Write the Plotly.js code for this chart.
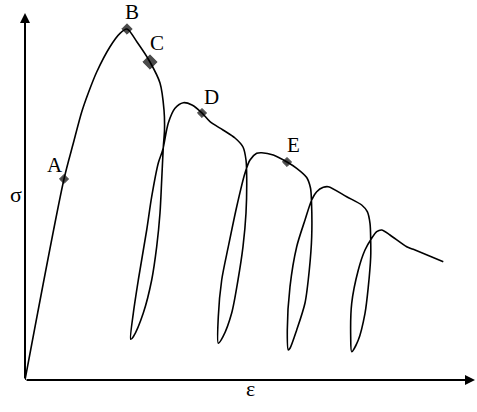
<!DOCTYPE html>
<html>
<head>
<meta charset="utf-8">
<script src="https://cdn.plot.ly/plotly-3.0.1.min.js"></script>
<style>
  html, body { margin: 0; padding: 0; background: #fff; }
  #chart { width: 477px; height: 412px; }
</style>
</head>
<body>
<div id="chart"></div>
<script>
// stress-strain path with the unload / reload loops (schematic units)
var strain = [0, 39, 48.3, 56.7, 63.3, 71.7, 85, 95, 102, 112, 125, 135, 139, 139.5, 138.3, 136.7, 135, 131.7, 126.7, 118.3, 108.3, 105.7,
  108.3, 113.3, 121.7, 126.7, 133.3, 137.7, 143.3, 150, 158.3, 167, 177, 185, 198, 210, 218, 221, 221.7, 221, 218, 213, 206.7, 198, 193.3,
  193.3, 196.7, 203.3, 211.7, 220, 225, 231.7, 236.7, 248.3, 262, 271.7, 281.7, 285.5, 286.5, 286.7, 284.3, 280, 271.7, 265, 263.3,
  262.3, 265, 271.7, 280, 286.7, 291.7, 298.3, 303.3, 321.7, 336.7, 342.3, 345, 345.7, 345.7, 343.3, 340, 333.3, 326.7,
  325.7, 326.7, 333.3, 340, 346.7, 351.7, 356.7, 365, 381.7, 388.3, 418.3];
var stress = [0, 201, 236.7, 268, 287, 308, 333.3, 346.7, 351, 338, 318, 297, 270, 250, 233, 200, 167, 133.3, 100, 67, 43.3, 40.7,
  66.7, 100, 150, 183.3, 217, 230, 257, 271.7, 277.3, 275, 267, 258.3, 250, 242, 233, 220, 203.3, 167, 133.3, 100, 67, 43.3, 36.7,
  63.3, 100, 133.3, 173.3, 207, 220, 226.7, 227.3, 225, 218, 211.7, 202.5, 192, 178, 143.3, 110, 77, 50, 31.7, 30,
  50, 93.3, 133.3, 160, 180, 188.3, 192.7, 193.3, 183.3, 175, 168.3, 156.7, 140, 123.3, 93.3, 66.7, 40, 28.3,
  43.3, 76.7, 110, 130, 141.7, 148.3, 150, 145, 133.3, 130.7, 118.3];

// marked points
var pointNames = ["A", "B", "C", "D", "E"];
var pointStrain = [39, 102, 125, 177, 262];
var pointStress = [201, 351, 318, 267, 218];

var curve = {
  x: strain, y: stress,
  mode: "lines",
  line: {color: "#000", width: 1.6, shape: "spline", smoothing: 0.8},
  hoverinfo: "skip"
};
var points = {
  x: pointStrain, y: pointStress,
  mode: "markers",
  marker: {symbol: "diamond", color: "#000", size: [7, 8, 11, 7, 7], line: {color: "#000", width: 1}},
  hoverinfo: "skip"
};

var shifts = [[-9, 14], [5, 17], [7, 19], [9, 16], [6, 17]];
var annotations = pointNames.map(function(n, i) {
  return {x: pointStrain[i], y: pointStress[i], xref: "x", yref: "y", text: n, showarrow: false,
    xshift: shifts[i][0], yshift: shifts[i][1],
    font: {family: "Liberation Serif", size: 21, color: "#000"}};
});
// axes with arrows
annotations.push({x: 450, y: 0, ax: 0, ay: 0, xref: "x", yref: "y", axref: "x", ayref: "y",
  text: "", showarrow: true, arrowhead: 2, arrowsize: 1, arrowwidth: 2, arrowcolor: "#000"});
annotations.push({x: 0, y: 367, ax: 0, ay: 0, xref: "x", yref: "y", axref: "x", ayref: "y",
  text: "", showarrow: true, arrowhead: 2, arrowsize: 1, arrowwidth: 2, arrowcolor: "#000"});
annotations.push({x: 8, y: 412 - 194, xref: "paper", yref: "paper", text: "σ", showarrow: false,
  font: {family: "Liberation Serif", size: 22, color: "#000"}});
annotations.push({x: 250, y: 412 - 403, xref: "paper", yref: "paper", text: "ε", showarrow: false,
  font: {family: "Liberation Serif", size: 22, color: "#000"}});

// paper coords in pixels are converted below
annotations.forEach(function(a) {
  if (a.xref === "paper") {
    a.x = (a.x - 25) / 450;
    a.y = (a.y - 32) / 370;
  }
});

var layout = {
  width: 477, height: 412,
  margin: {l: 25, r: 2, t: 10, b: 32},
  paper_bgcolor: "#fff", plot_bgcolor: "#fff",
  showlegend: false,
  xaxis: {range: [0, 450], showgrid: false, zeroline: false, showticklabels: false, ticks: "", showline: false},
  yaxis: {range: [0, 370], showgrid: false, zeroline: false, showticklabels: false, ticks: "", showline: false},
  annotations: annotations
};

Plotly.newPlot("chart", [curve, points], layout, {displayModeBar: false, staticPlot: true});
</script>
</body>
</html>
